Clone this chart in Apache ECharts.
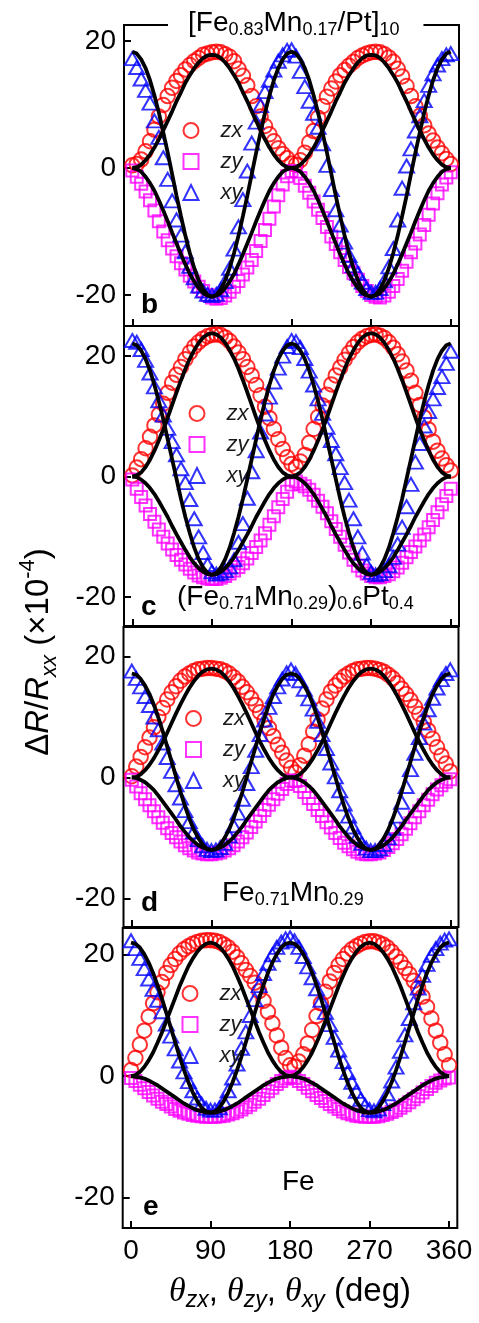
<!DOCTYPE html>
<html><head><meta charset="utf-8">
<script src="https://cdn.jsdelivr.net/npm/echarts@6/dist/echarts.min.js"></script>
<style>html,body{margin:0;padding:0;background:#fff}#c{width:479px;height:1323px}</style>
</head><body><div id="c"></div>
<script>
// ---------- DATA ----------
const angles = [0,5,10,15,20,25,30,35,40,45,50,55,60,65,70,75,80,85,90,95,100,105,110,115,120,125,130,135,140,145,150,155,160,165,170,175,180,185,190,195,200,205,210,215,220,225,230,235,240,245,250,255,260,265,270,275,280,285,290,295,300,305,310,315,320,325,330,335,340,345,350,355,360];
const xTicks = [0,90,180,270,360];
const yTicks = [-20,0,20];

// panel b  [Fe0.83Mn0.17/Pt]10
const b_zx = [0.4,0.6,1.3,2.6,4.2,6.0,8.1,9.9,11.3,12.6,13.7,14.6,15.5,16.2,16.8,17.3,17.8,18.0,18.2,18.3,18.2,17.9,17.5,16.8,15.6,14.5,13.0,11.3,9.7,8.1,6.6,5.3,4.2,3.1,2.2,1.5,0.7,0.5,1.2,2.4,4.0,5.8,7.9,9.7,11.2,12.5,13.6,14.6,15.4,16.1,16.7,17.3,17.7,18.0,18.2,18.3,18.2,17.9,17.4,16.7,15.6,14.4,12.9,11.3,9.7,8.2,6.7,5.4,4.3,3.2,2.3,1.4,0.6];
const b_zy = [-0.4,-1.4,-2.5,-3.7,-5.1,-6.7,-8.4,-10.0,-11.4,-12.7,-13.9,-15.0,-16.0,-17.0,-17.9,-18.7,-19.4,-20.0,-20.4,-20.6,-20.5,-20.1,-19.5,-18.7,-17.8,-16.8,-15.7,-14.5,-13.1,-11.5,-9.8,-8.0,-6.1,-4.3,-2.6,-1.3,-0.5,-0.6,-1.6,-2.8,-3.9,-5.3,-6.6,-7.9,-9.3,-10.8,-12.0,-13.3,-14.5,-15.6,-16.6,-17.6,-18.6,-19.4,-20.0,-20.3,-20.4,-20.1,-19.5,-18.6,-17.5,-16.2,-14.8,-13.3,-11.9,-10.5,-9.0,-7.4,-5.6,-4.0,-2.6,-1.5,-0.7];
const b_xy = [17.2,15.8,14.0,12.2,10.2,7.4,4.8,1.6,-1.8,-5.2,-8.2,-10.6,-13.2,-15.5,-17.3,-18.6,-19.4,-19.9,-20.1,-19.9,-19.2,-17.9,-15.8,-12.8,-9.3,-5.0,-0.5,3.9,7.2,9.8,12.0,13.8,15.4,16.8,17.8,18.5,18.6,17.6,15.2,12.8,10.5,8.6,6.4,3.8,0.4,-3.4,-6.6,-9.0,-11.7,-13.8,-15.4,-16.6,-18.0,-19.0,-19.6,-19.6,-19.0,-17.8,-15.6,-12.7,-8.2,-3.2,0.3,3.0,5.8,8.2,10.6,13.0,14.8,16.2,17.2,17.8,18.0];
const b_fit_zx = [0,0.1,0.5,1.2,2.1,3.2,4.5,5.9,7.4,8.9,10.5,11.9,13.4,14.6,15.7,16.6,17.3,17.7,17.8,17.7,17.3,16.6,15.7,14.6,13.4,11.9,10.5,8.9,7.4,5.9,4.5,3.2,2.1,1.2,0.5,0.1,0,0.1,0.5,1.2,2.1,3.2,4.5,5.9,7.4,8.9,10.5,11.9,13.4,14.6,15.7,16.6,17.3,17.7,17.8,17.7,17.3,16.6,15.7,14.6,13.4,11.9,10.5,8.9,7.4,5.9,4.5,3.2,2.1,1.2,0.5,0.1,0];
const b_fit_zy = [0,-0.2,-0.6,-1.4,-2.4,-3.6,-5.1,-6.7,-8.4,-10.2,-11.9,-13.6,-15.2,-16.7,-17.9,-18.9,-19.7,-20.1,-20.3,-20.1,-19.7,-18.9,-17.9,-16.7,-15.2,-13.6,-11.9,-10.2,-8.4,-6.7,-5.1,-3.6,-2.4,-1.4,-0.6,-0.2,0,-0.2,-0.6,-1.4,-2.4,-3.6,-5.1,-6.7,-8.4,-10.2,-11.9,-13.6,-15.2,-16.7,-17.9,-18.9,-19.7,-20.1,-20.3,-20.1,-19.7,-18.9,-17.9,-16.7,-15.2,-13.6,-11.9,-10.2,-8.4,-6.7,-5.1,-3.6,-2.4,-1.4,-0.6,-0.2,0];
const b_fit_xy = [18.3,18.0,17.1,15.7,13.8,11.4,8.7,5.6,2.4,-1.0,-4.4,-7.6,-10.7,-13.4,-15.8,-17.7,-19.1,-20.0,-20.3,-20.0,-19.1,-17.7,-15.8,-13.4,-10.7,-7.6,-4.4,-1.0,2.4,5.6,8.7,11.4,13.8,15.7,17.1,18.0,18.3,18.0,17.1,15.7,13.8,11.4,8.7,5.6,2.4,-1.0,-4.4,-7.6,-10.7,-13.4,-15.8,-17.7,-19.1,-20.0,-20.3,-20.0,-19.1,-17.7,-15.8,-13.4,-10.7,-7.6,-4.4,-1.0,2.4,5.6,8.7,11.4,13.8,15.7,17.1,18.0,18.3];

// panel c  (Fe0.71Mn0.29)0.6Pt0.4
const c_zx = [0.2,1.5,2.9,4.7,6.6,8.5,10.3,12.1,13.9,15.6,16.9,18.2,19.5,20.6,21.6,22.3,22.9,23.3,23.5,23.6,23.5,23.1,22.5,21.6,20.6,19.5,18.2,16.8,15.2,13.5,11.6,9.7,7.9,6.2,4.6,3.2,2.1,1.6,2.5,3.6,5.6,7.9,9.9,11.8,13.6,15.3,16.8,18.1,19.4,20.5,21.5,22.3,22.9,23.3,23.5,23.6,23.4,23.0,22.3,21.4,20.3,19.1,17.6,15.9,13.9,11.9,9.8,7.8,5.8,4.3,3.0,1.9,1.0];
const c_zy = [-0.5,-2.0,-3.4,-4.8,-6.2,-7.5,-8.8,-10.0,-11.1,-12.1,-13.0,-13.8,-14.6,-15.3,-15.9,-16.4,-16.7,-16.9,-17.0,-17.0,-16.8,-16.5,-16.1,-15.6,-15.0,-14.4,-13.6,-12.7,-11.7,-10.6,-9.4,-8.0,-6.6,-5.1,-3.7,-2.5,-1.3,-0.8,-1.2,-1.6,-2.2,-3.0,-4.0,-5.0,-6.1,-7.4,-8.7,-10.0,-11.3,-12.6,-13.8,-14.8,-15.6,-16.1,-16.5,-16.7,-16.7,-16.5,-16.2,-15.7,-15.1,-14.3,-13.4,-12.5,-11.6,-10.6,-9.6,-8.4,-7.2,-5.9,-4.6,-3.2,-2.0];
const c_xy = [22.6,22.3,21.1,19.3,17.2,14.9,12.6,10.2,8.0,5.8,3.6,1.3,-1.0,-3.8,-7.0,-10.0,-12.6,-14.6,-15.8,-16.2,-16.0,-15.6,-15.0,-13.8,-10.9,-7.8,-3.6,0.8,4.3,7.4,10.4,13.2,15.7,18.0,20.0,21.6,22.6,22.4,21.4,19.6,17.5,15.2,12.9,10.5,8.2,6.0,3.8,1.5,-1.0,-3.9,-7.0,-10.0,-12.7,-14.7,-15.9,-16.3,-16.1,-15.6,-14.8,-13.4,-11.2,-8.4,-5.0,-1.3,2.4,5.5,8.4,10.8,12.9,14.8,16.6,18.8,20.8];
const c_fit_zx = [0,0.2,0.7,1.6,2.8,4.3,6.0,7.8,9.8,11.9,14.0,16.0,17.9,19.6,21.0,22.2,23.1,23.6,23.8,23.6,23.1,22.2,21.0,19.6,17.9,16.0,14.0,11.9,9.8,7.8,6.0,4.3,2.8,1.6,0.7,0.2,0,0.2,0.7,1.6,2.8,4.3,6.0,7.8,9.8,11.9,14.0,16.0,17.9,19.6,21.0,22.2,23.1,23.6,23.8,23.6,23.1,22.2,21.0,19.6,17.9,16.0,14.0,11.9,9.8,7.8,6.0,4.3,2.8,1.6,0.7,0.2,0];
const c_fit_zy = [0,-0.1,-0.5,-1.1,-1.9,-2.9,-4.1,-5.4,-6.7,-8.2,-9.6,-10.9,-12.2,-13.4,-14.4,-15.2,-15.8,-16.2,-16.3,-16.2,-15.8,-15.2,-14.4,-13.4,-12.2,-10.9,-9.6,-8.2,-6.7,-5.4,-4.1,-2.9,-1.9,-1.1,-0.5,-0.1,0,-0.1,-0.5,-1.1,-1.9,-2.9,-4.1,-5.4,-6.7,-8.2,-9.6,-10.9,-12.2,-13.4,-14.4,-15.2,-15.8,-16.2,-16.3,-16.2,-15.8,-15.2,-14.4,-13.4,-12.2,-10.9,-9.6,-8.2,-6.7,-5.4,-4.1,-2.9,-1.9,-1.1,-0.5,-0.1,0];
const c_fit_xy = [22.1,21.8,20.9,19.5,17.6,15.2,12.5,9.5,6.2,2.9,-0.4,-3.7,-6.7,-9.4,-11.8,-13.7,-15.1,-16.0,-16.3,-16.0,-15.1,-13.7,-11.8,-9.4,-6.7,-3.7,-0.4,2.9,6.2,9.5,12.5,15.2,17.6,19.5,20.9,21.8,22.1,21.8,20.9,19.5,17.6,15.2,12.5,9.5,6.2,2.9,-0.4,-3.7,-6.7,-9.4,-11.8,-13.7,-15.1,-16.0,-16.3,-16.0,-15.1,-13.7,-11.8,-9.4,-6.7,-3.7,-0.4,2.9,6.2,9.5,12.5,15.2,17.6,19.5,20.9,21.8,22.1];

// panel d  Fe0.71Mn0.29
const d_zx = [0.2,1.8,3.4,5.0,6.6,8.3,10.0,11.5,12.9,14.1,15.1,16.0,16.7,17.2,17.6,17.9,18.0,18.1,18.1,18.0,17.9,17.6,17.2,16.6,15.9,15.0,14.1,13.1,12.0,10.8,9.5,8.2,6.8,5.4,4.1,2.8,1.6,0.8,2.0,3.6,5.5,7.6,9.6,11.4,12.9,14.2,15.2,16.0,16.7,17.2,17.6,17.9,18.0,18.1,18.1,18.0,17.8,17.5,17.0,16.4,15.6,14.7,13.8,12.8,11.7,10.5,9.2,7.8,6.4,5.0,3.6,2.3,1.0];
const d_zy = [-0.4,-1.5,-2.6,-3.6,-4.6,-5.6,-6.6,-7.5,-8.4,-9.2,-9.9,-10.6,-11.2,-11.7,-12.1,-12.4,-12.6,-12.7,-12.7,-12.6,-12.4,-12.1,-11.7,-11.2,-10.6,-9.9,-9.1,-8.2,-7.3,-6.4,-5.4,-4.5,-3.6,-2.7,-1.9,-1.1,-0.5,-0.6,-1.4,-2.4,-3.4,-4.4,-5.4,-6.4,-7.4,-8.3,-9.2,-10.0,-10.8,-11.4,-11.9,-12.3,-12.6,-12.7,-12.7,-12.6,-12.4,-12.0,-11.5,-10.9,-10.2,-9.4,-8.5,-7.6,-6.6,-5.6,-4.6,-3.7,-2.8,-2.0,-1.3,-0.7,-0.3];
const d_xy = [17.6,16.4,15.0,13.4,11.9,10.0,7.9,5.7,3.3,1.0,-1.2,-3.4,-5.5,-7.3,-9.0,-10.3,-11.3,-11.9,-12.1,-12.0,-11.6,-10.9,-9.7,-8.0,-5.9,-3.6,-1.0,1.8,4.5,7.1,9.5,11.6,13.4,15.0,16.3,17.3,17.8,17.2,16.0,14.6,13.0,11.3,9.3,7.1,4.8,2.4,0.1,-2.2,-4.4,-6.4,-8.2,-9.7,-10.9,-11.7,-12.1,-12.1,-11.8,-11.1,-10.0,-8.4,-6.4,-4.1,-1.5,1.3,4.0,6.6,9.0,11.2,13.1,14.8,16.2,17.2,17.8];
const d_fit_zx = [0,0.1,0.5,1.2,2.1,3.2,4.5,5.9,7.4,9.0,10.6,12.1,13.5,14.8,15.9,16.8,17.5,17.9,18.0,17.9,17.5,16.8,15.9,14.8,13.5,12.1,10.6,9.0,7.4,5.9,4.5,3.2,2.1,1.2,0.5,0.1,0,0.1,0.5,1.2,2.1,3.2,4.5,5.9,7.4,9.0,10.6,12.1,13.5,14.8,15.9,16.8,17.5,17.9,18.0,17.9,17.5,16.8,15.9,14.8,13.5,12.1,10.6,9.0,7.4,5.9,4.5,3.2,2.1,1.2,0.5,0.1,0];
const d_fit_zy = [0,-0.1,-0.4,-0.8,-1.4,-2.1,-3.0,-4.0,-5.0,-6.0,-7.0,-8.1,-9.0,-9.9,-10.6,-11.2,-11.6,-11.9,-12.0,-11.9,-11.6,-11.2,-10.6,-9.9,-9.0,-8.1,-7.0,-6.0,-5.0,-4.0,-3.0,-2.1,-1.4,-0.8,-0.4,-0.1,0,-0.1,-0.4,-0.8,-1.4,-2.1,-3.0,-4.0,-5.0,-6.0,-7.0,-8.1,-9.0,-9.9,-10.6,-11.2,-11.6,-11.9,-12.0,-11.9,-11.6,-11.2,-10.6,-9.9,-9.0,-8.1,-7.0,-6.0,-5.0,-4.0,-3.0,-2.1,-1.4,-0.8,-0.4,-0.1,0];
const d_fit_xy = [17.2,17.0,16.3,15.2,13.8,12.0,9.9,7.6,5.1,2.6,0.1,-2.4,-4.7,-6.8,-8.6,-10.0,-11.1,-11.8,-12.0,-11.8,-11.1,-10.0,-8.6,-6.8,-4.7,-2.4,0.1,2.6,5.1,7.6,9.9,12.0,13.8,15.2,16.3,17.0,17.2,17.0,16.3,15.2,13.8,12.0,9.9,7.6,5.1,2.6,0.1,-2.4,-4.7,-6.8,-8.6,-10.0,-11.1,-11.8,-12.0,-11.8,-11.1,-10.0,-8.6,-6.8,-4.7,-2.4,0.1,2.6,5.1,7.6,9.9,12.0,13.8,15.2,16.3,17.0,17.2];

// panel e  Fe
const e_zx = [1.0,3.0,5.2,7.5,9.8,12.0,13.8,15.5,17.0,18.3,19.3,20.2,20.9,21.4,21.8,22.1,22.3,22.4,22.4,22.3,22.1,21.7,21.2,20.5,19.6,18.6,17.5,16.5,15.4,14.0,12.4,10.6,8.7,6.7,4.7,3.0,1.8,1.6,2.4,3.6,5.4,7.6,9.9,12.0,13.9,15.6,17.0,18.3,19.3,20.2,20.9,21.4,21.8,22.1,22.2,22.2,22.0,21.7,21.2,20.5,19.7,18.8,17.8,16.8,15.7,14.5,13.1,11.4,9.5,7.5,5.5,3.6,1.8];
const e_zy = [-0.3,-0.8,-1.4,-2.0,-2.6,-3.2,-3.7,-4.2,-4.6,-5.0,-5.4,-5.7,-6.0,-6.2,-6.4,-6.5,-6.6,-6.7,-6.7,-6.7,-6.6,-6.5,-6.3,-6.1,-5.8,-5.5,-5.1,-4.7,-4.2,-3.7,-3.1,-2.5,-1.9,-1.3,-0.8,-0.4,-0.1,-0.3,-0.8,-1.3,-1.9,-2.5,-3.1,-3.6,-4.1,-4.6,-5.0,-5.4,-5.8,-6.1,-6.3,-6.5,-6.6,-6.7,-6.7,-6.7,-6.6,-6.4,-6.2,-5.9,-5.6,-5.2,-4.8,-4.3,-3.8,-3.3,-2.7,-2.1,-1.6,-1.1,-0.7,-0.4,-0.2];
const e_xy = [22.3,21.0,19.4,17.7,16.0,14.3,12.5,10.6,8.6,6.6,4.5,2.5,0.7,-0.9,-2.4,-3.6,-4.6,-5.3,-5.6,-5.6,-5.2,-4.2,-2.4,-0.3,2.0,4.6,7.3,10.0,12.6,14.9,16.9,18.6,20.0,21.2,22.1,22.6,22.8,22.3,21.2,19.7,18.0,16.2,14.4,12.5,10.5,8.5,6.4,4.3,2.4,0.6,-1.0,-2.5,-3.8,-4.8,-5.5,-5.7,-5.4,-4.5,-2.9,-0.8,1.5,4.1,6.8,9.5,12.1,14.5,16.6,18.4,19.9,21.0,21.9,22.4,22.6];
const e_fit_zx = [0,0.2,0.7,1.5,2.6,3.9,5.5,7.2,9.1,11.0,12.9,14.8,16.5,18.1,19.4,20.5,21.3,21.8,22.0,21.8,21.3,20.5,19.4,18.1,16.5,14.8,12.9,11.0,9.1,7.2,5.5,3.9,2.6,1.5,0.7,0.2,0,0.2,0.7,1.5,2.6,3.9,5.5,7.2,9.1,11.0,12.9,14.8,16.5,18.1,19.4,20.5,21.3,21.8,22.0,21.8,21.3,20.5,19.4,18.1,16.5,14.8,12.9,11.0,9.1,7.2,5.5,3.9,2.6,1.5,0.7,0.2,0];
const e_fit_zy = [0,-0.1,-0.2,-0.4,-0.7,-1.1,-1.5,-2.0,-2.5,-3.0,-3.5,-4.0,-4.5,-4.9,-5.3,-5.6,-5.8,-6.0,-6.0,-6.0,-5.8,-5.6,-5.3,-4.9,-4.5,-4.0,-3.5,-3.0,-2.5,-2.0,-1.5,-1.1,-0.7,-0.4,-0.2,-0.1,0,-0.1,-0.2,-0.4,-0.7,-1.1,-1.5,-2.0,-2.5,-3.0,-3.5,-4.0,-4.5,-4.9,-5.3,-5.6,-5.8,-6.0,-6.0,-6.0,-5.8,-5.6,-5.3,-4.9,-4.5,-4.0,-3.5,-3.0,-2.5,-2.0,-1.5,-1.1,-0.7,-0.4,-0.2,-0.1,0];
const e_fit_xy = [22.0,21.8,21.2,20.1,18.7,17.0,15.0,12.8,10.4,8.0,5.6,3.2,1.0,-1.0,-2.7,-4.1,-5.2,-5.8,-6.0,-5.8,-5.2,-4.1,-2.7,-1.0,1.0,3.2,5.6,8.0,10.4,12.8,15.0,17.0,18.7,20.1,21.2,21.8,22.0,21.8,21.2,20.1,18.7,17.0,15.0,12.8,10.4,8.0,5.6,3.2,1.0,-1.0,-2.7,-4.1,-5.2,-5.8,-6.0,-5.8,-5.2,-4.1,-2.7,-1.0,1.0,3.2,5.6,8.0,10.4,12.8,15.0,17.0,18.7,20.1,21.2,21.8,22.0];

// ---------- LAYOUT / STYLE ----------
const SANS = '"Liberation Sans", Arial, Helvetica, sans-serif';
const SERIF = '"Liberation Serif", "Times New Roman", serif';
const panels = [
  {d:[b_zx,b_zy,b_xy,b_fit_zx,b_fit_zy,b_fit_xy], grid:{left:124,width:335,top:25,height:301}, ymin:-24.9, ymax:22.5, legend:[182.5,119.5]},
  {d:[c_zx,c_zy,c_xy,c_fit_zx,c_fit_zy,c_fit_xy], grid:{left:124,width:335,top:326,height:300}, ymin:-24.8, ymax:25.0, legend:[188.5,402.5]},
  {d:[d_zx,d_zy,d_xy,d_fit_zx,d_fit_zy,d_fit_xy], grid:{left:123.5,width:335,top:627,height:300}, ymin:-24.75, ymax:24.9, legend:[185,707.5]},
  {d:[e_zx,e_zy,e_xy,e_fit_zx,e_fit_zy,e_fit_xy], grid:{left:122.7,width:334.6,top:928,height:300}, ymin:-25.0, ymax:24.4, legend:[181.5,982.5]}
];
panels.forEach(p=>p.d.forEach(a=>{ if(a.length!==angles.length) console.error('length mismatch', a.length); }));

const pairs = arr => angles.map((a,i)=>[a, arr[i]]);
const markerDefs = [
  {name:'zx', symbol:'circle', size:14.5, color:'#ff0000'},
  {name:'zy', symbol:'rect', size:12, color:'#ff00ff'},
  {name:'xy', symbol:'triangle', size:[15,13], color:'#0000ff'}
];

const grids=[], xAxes=[], yAxes=[], series=[], legends=[];
panels.forEach((p,i)=>{
  grids.push(Object.assign({show:true, borderColor:'#000', borderWidth:2, backgroundColor:'transparent'}, p.grid));
  const last = i===panels.length-1;
  xAxes.push({
    type:'value', gridIndex:i, min:-9.4, max:369.3, position:'bottom',
    axisLine:{show:false, onZero:false}, splitLine:{show:false},
    axisTick:{show:true, inside:true, length:7, customValues:xTicks, lineStyle:{color:'#000', width:2}},
    axisLabel:{show:last, customValues:xTicks, margin:9, fontFamily:SANS, fontSize:28, color:'#000'},
    name: last ? '{t|θ}{s|zx}{n|, }{t|θ}{s|zy}{n|, }{t|θ}{s|xy}{n| (deg)}' : '',
    nameLocation:'middle', nameGap:44,
    nameTextStyle:{rich:{
      t:{fontFamily:SERIF, fontStyle:'italic', fontSize:34, lineHeight:40, color:'#000'},
      s:{fontFamily:SANS, fontStyle:'italic', fontSize:23, lineHeight:23, verticalAlign:'bottom', color:'#000'},
      n:{fontFamily:SANS, fontSize:33, lineHeight:40, color:'#000'}
    }}
  });
  yAxes.push({
    type:'value', gridIndex:i, min:p.ymin, max:p.ymax, position:'left',
    axisLine:{show:false, onZero:false}, splitLine:{show:false},
    axisTick:{show:true, inside:true, length:7, customValues:yTicks, lineStyle:{color:'#000', width:2}},
    axisLabel:{customValues:yTicks, margin:8, fontFamily:SANS, fontSize:28, color:'#000'}
  });
  markerDefs.forEach((m,k)=>{
    series.push({
      type:'scatter', name:m.name, xAxisIndex:i, yAxisIndex:i, data:pairs(p.d[k]),
      symbol:m.symbol, symbolSize:m.size, z:2, silent:true,
      itemStyle:{color:'rgba(0,0,0,0)', borderColor:m.color, borderWidth:2}
    });
  });
  [3,4,5].forEach(k=>{
    series.push({
      type:'line', name:'fit', xAxisIndex:i, yAxisIndex:i, data:pairs(p.d[k]),
      symbol:'none', showSymbol:false, z:5, silent:true,
      lineStyle:{color:'#000', width:3.8}
    });
  });
  legends.push({
    orient:'vertical', left:p.legend[0], top:p.legend[1], padding:0,
    itemWidth:15, itemHeight:15, itemGap:9, selectedMode:false,
    textStyle:{fontFamily:SANS, fontStyle:'italic', fontSize:22, color:'#1a1a1a', lineHeight:15, padding:[0,0,0,17]},
    data:markerDefs.map(m=>({name:m.name, icon:m.symbol,
      itemStyle:{color:'rgba(0,0,0,0)', borderColor:m.color, borderWidth:2}}))
  });
});

const richMain = {
  n:{fontFamily:SANS, fontSize:28, fontWeight:'normal', lineHeight:32, color:'#000'},
  s:{fontFamily:SANS, fontSize:18, fontWeight:'normal', lineHeight:18, verticalAlign:'bottom', color:'#000'}
};
function txt(x,y,text,rich,extra){
  return Object.assign({type:'text', x:x, y:y, z:50, silent:true,
    style:{text:text, rich:rich, align:'left', verticalAlign:'top', textAlign:'left', textVerticalAlign:'top'}}, extra||{});
}
const letterRich = {L:{fontFamily:SANS, fontSize:28, fontWeight:'bold', lineHeight:28, color:'#000'}};

const graphic = [
  txt(177, 581, '{n|(Fe}{s|0.71}{n|Mn}{s|0.29}{n|)}{s|0.6}{n|Pt}{s|0.4}', richMain),
  txt(222, 877.5, '{n|Fe}{s|0.71}{n|Mn}{s|0.29}', richMain),
  txt(282, 1166.5, '{n|Fe}', richMain),
  txt(141, 291.5, '{L|b}', letterRich),
  txt(141, 593, '{L|c}', letterRich),
  txt(141, 889.5, '{L|d}', letterRich),
  txt(143, 1193, '{L|e}', letterRich),
  {type:'text', x:39, y:652, rotation:Math.PI/2, z:50, silent:true,
    style:{text:'{n|Δ}{i|R}{n|/}{i|R}{s|xx}{n| (×10}{p|-4}{n|)}',
      align:'center', verticalAlign:'middle', textAlign:'center', textVerticalAlign:'middle',
      rich:{
        n:{fontFamily:SANS, fontSize:33, lineHeight:44, color:'#000'},
        i:{fontFamily:SANS, fontStyle:'italic', fontSize:33, lineHeight:44, color:'#000'},
        s:{fontFamily:SANS, fontStyle:'italic', fontSize:22, lineHeight:22, verticalAlign:'bottom', color:'#000'},
        p:{fontFamily:SANS, fontSize:22, lineHeight:22, verticalAlign:'top', color:'#000'}
      }}}
];

const chart = echarts.init(document.getElementById('c'), null, {renderer:'canvas', width:479, height:1323});
chart.setOption({
  animation:false,
  backgroundColor:'#fff',
  title:{
    text:'{n|[Fe}{s|0.83}{n|Mn}{s|0.17}{n|/Pt]}{s|10}',
    left:168, top:7, padding:[0,24,0,20], backgroundColor:'#fff', z:20,
    textStyle:{fontWeight:'normal', rich:richMain}
  },
  grid:grids, xAxis:xAxes, yAxis:yAxes, legend:legends, series:series, graphic:graphic
});
</script></body></html>
